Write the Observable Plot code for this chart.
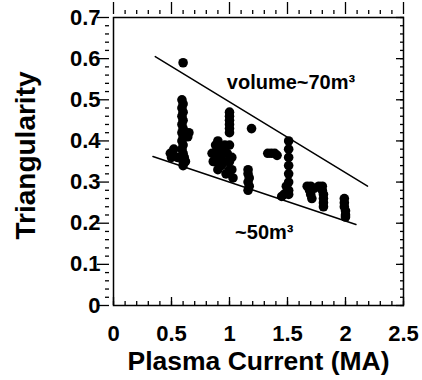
<!DOCTYPE html>
<html>
<head>
<meta charset="utf-8">
<script src="https://cdn.jsdelivr.net/npm/d3@7"></script>
<script src="https://cdn.jsdelivr.net/npm/@observablehq/plot@0.6"></script>
<style>
  html, body { margin: 0; padding: 0; background: #fff; }
  #chart svg { font-family: "Liberation Sans", Arial, Helvetica, sans-serif; }
</style>
</head>
<body>
<div id="chart"></div>
<script>
// Plasma current (MA) of each shot
const current = [
  0.60,
  0.59, 0.60, 0.59, 0.60, 0.59, 0.60, 0.59, 0.60, 0.59, 0.60, 0.59, 0.60, 0.59, 0.60, 0.61, 0.60,
  0.65, 0.64, 0.49, 0.52, 0.55, 0.50, 0.62, 0.60,
  0.88, 0.90, 0.87, 0.92, 0.95, 0.98, 1.00, 1.02, 1.00, 0.97, 0.93, 0.88, 1.03, 0.99, 0.85, 0.91,
  0.95, 0.90, 1.00, 0.96, 0.93, 0.86, 1.02,
  1.00, 1.00, 1.00, 1.00, 1.00, 1.00,
  1.19,
  1.16, 1.16, 1.17, 1.16, 1.17, 1.16,
  1.33, 1.36, 1.39, 1.41,
  1.51, 1.51, 1.51, 1.51, 1.51, 1.51, 1.51, 1.51, 1.47, 1.45, 1.49, 1.50,
  1.67, 1.70, 1.73, 1.77, 1.80, 1.80, 1.81, 1.81, 1.81, 1.81, 1.69, 1.70, 1.71,
  1.99, 1.99, 1.99, 2.00, 2.00, 2.00
];
// Triangularity of each shot
const triangularity = [
  0.59,
  0.50, 0.49, 0.48, 0.47, 0.46, 0.45, 0.44, 0.43, 0.42, 0.41, 0.40, 0.39, 0.38, 0.37, 0.36, 0.35,
  0.42, 0.41, 0.37, 0.38, 0.36, 0.36, 0.35, 0.34,
  0.39, 0.40, 0.37, 0.36, 0.38, 0.37, 0.39, 0.36, 0.33, 0.32, 0.34, 0.35, 0.31, 0.35, 0.37, 0.38,
  0.35, 0.33, 0.35, 0.39, 0.37, 0.35, 0.33,
  0.47, 0.46, 0.45, 0.44, 0.43, 0.42,
  0.43,
  0.33, 0.32, 0.31, 0.30, 0.29, 0.28,
  0.37, 0.37, 0.37, 0.365,
  0.40, 0.38, 0.36, 0.34, 0.32, 0.30, 0.28, 0.27, 0.27, 0.265, 0.29, 0.28,
  0.29, 0.29, 0.285, 0.29, 0.29, 0.28, 0.27, 0.26, 0.25, 0.24, 0.28, 0.27, 0.26,
  0.26, 0.25, 0.24, 0.23, 0.22, 0.215
];
// Constant-volume guide lines
const upperLineX = [0.36, 2.19];
const upperLineY = [0.605, 0.29];
const lowerLineX = [0.34, 2.09];
const lowerLineY = [0.362, 0.197];
// Annotations
const labelText = ["volume~70m³", "~50m³"];
const labelX = [1.53, 1.30];
const labelY = [0.542, 0.177];
// Tick labels
const xTicks = [0, 0.5, 1, 1.5, 2, 2.5];
const yTicks = [0, 0.1, 0.2, 0.3, 0.4, 0.5, 0.6, 0.7];
const xMinor = d3.range(0, 26).map(i => i / 10);
const yMinor = d3.range(0, 36).map(i => i / 50);

const shots = current.map((c, i) => ({current: c, tri: triangularity[i]}));
const upper = upperLineX.map((x, i) => ({x, y: upperLineY[i]}));
const lower = lowerLineX.map((x, i) => ({x, y: lowerLineY[i]}));
const labels = labelText.map((t, i) => ({t, x: labelX[i], y: labelY[i]}));

const tickFmt = d => d === 0 ? "0" : String(d);
const tk = {fill: "none", label: null, strokeWidth: 1.3};

const chart = Plot.plot({
  width: 422,
  height: 380,
  marginLeft: 113,
  marginRight: 19,
  marginTop: 17,
  marginBottom: 75,
  style: {fontFamily: "Liberation Sans, Arial, sans-serif", background: "#fff", color: "#000"},
  x: {domain: [0, 2.5]},
  y: {domain: [0, 0.7]},
  marks: [
    // inward ticks, all four sides (shifted inside the frame)
    Plot.axisX(xMinor, {...tk, anchor: "bottom", tickSize: 4, dy: -4}),
    Plot.axisX(xTicks, {...tk, anchor: "bottom", tickSize: 8, dy: -8}),
    Plot.axisX(xMinor, {...tk, anchor: "top", tickSize: 4, dy: -4}),
    Plot.axisX(xTicks, {...tk, anchor: "top", tickSize: 8, dy: -8}),
    Plot.axisY(yMinor, {...tk, anchor: "left", tickSize: 4, dx: -4}),
    Plot.axisY(yTicks, {...tk, anchor: "left", tickSize: 8, dx: -8}),
    Plot.axisY(yMinor, {...tk, anchor: "right", tickSize: 4, dx: -4}),
    Plot.axisY(yTicks, {...tk, anchor: "right", tickSize: 8, dx: -8}),
    Plot.frame({stroke: "#000", strokeWidth: 1.5}),
    // tick labels
    Plot.axisX(xTicks, {anchor: "bottom", tickSize: 0, tickPadding: 20, fontSize: 22, fontWeight: "bold", tickFormat: tickFmt, label: null}),
    Plot.axisY(yTicks, {anchor: "left", tickSize: 0, tickPadding: 13, fontSize: 22, fontWeight: "bold", tickFormat: tickFmt, label: null}),
    // axis titles
    Plot.text(["Plasma Current (MA)"], {frameAnchor: "bottom", dy: 56, text: d => d, fontSize: 26.5, fontWeight: "bold", lineAnchor: "middle", textAnchor: "middle"}),
    Plot.text(["Triangularity"], {frameAnchor: "left", dx: -87, dy: -6, rotate: -90, text: d => d, fontSize: 28, fontWeight: "bold", lineAnchor: "middle", textAnchor: "middle"}),
    // guide lines
    Plot.line(upper, {x: "x", y: "y", stroke: "#000", strokeWidth: 1.5}),
    Plot.line(lower, {x: "x", y: "y", stroke: "#000", strokeWidth: 1.5}),
    // data
    Plot.dot(shots, {x: "current", y: "tri", r: 4.8, fill: "#000", stroke: "none"}),
    // annotations
    Plot.text(labels, {x: "x", y: "y", text: "t", fontSize: 20, fontWeight: "bold", fill: "#000"})
  ]
});
document.getElementById("chart").appendChild(chart);
</script>
</body>
</html>
